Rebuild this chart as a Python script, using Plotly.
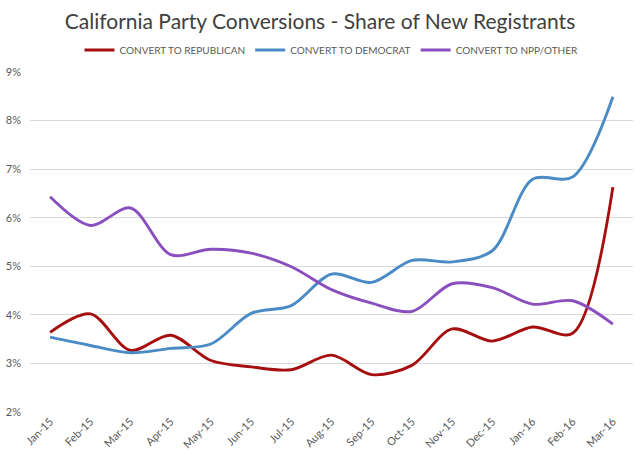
import plotly.graph_objects as go

months = ["Jan-15", "Feb-15", "Mar-15", "Apr-15", "May-15", "Jun-15", "Jul-15", "Aug-15",
          "Sep-15", "Oct-15", "Nov-15", "Dec-15", "Jan-16", "Feb-16", "Mar-16"]
republican = [3.64, 4.02, 3.27, 3.58, 3.06, 2.93, 2.87, 3.17, 2.77, 2.96, 3.71, 3.46, 3.75, 3.62, 6.63]
democrat = [3.54, 3.37, 3.22, 3.31, 3.40, 4.03, 4.19, 4.84, 4.67, 5.12, 5.09, 5.32, 6.79, 6.84, 8.49]
npp_other = [6.43, 5.84, 6.20, 5.24, 5.35, 5.27, 4.99, 4.52, 4.24, 4.07, 4.64, 4.56, 4.22, 4.29, 3.81]

y_ticks = [2, 3, 4, 5, 6, 7, 8, 9]
y_tick_labels = ["2%", "3%", "4%", "5%", "6%", "7%", "8%", "9%"]

series = [
    ("CONVERT TO REPUBLICAN", republican, "#A50F0F"),
    ("CONVERT TO DEMOCRAT", democrat, "#4A8BC5"),
    ("CONVERT TO NPP/OTHER", npp_other, "#8A4FBE"),
]

FONT = "Lato"

fig = go.Figure()
for name, vals, color in series:
    fig.add_trace(go.Scatter(
        x=months, y=vals, name=name, mode="lines",
        line=dict(color=color, width=2.9, shape="spline", smoothing=0.9),
        hoverinfo="skip",
    ))

fig.update_layout(
    width=640, height=462,
    margin=dict(l=30, r=7, t=72, b=50, autoexpand=False),
    paper_bgcolor="white", plot_bgcolor="white",
    font=dict(family=FONT, color="#595959", size=10),
    title=dict(text="California Party Conversions - Share of New Registrants",
               x=0.5, xanchor="center", y=1 - 22 / 462, yanchor="middle",
               font=dict(family=FONT, size=21, color="#404040")),
    legend=dict(orientation="h", x=0.5, xanchor="center", yref="container",
                y=1 - 50 / 462, yanchor="middle",
                font=dict(family=FONT, size=10, color="#595959"),
                itemwidth=30, bgcolor="rgba(0,0,0,0)"),
    showlegend=True,
)
fig.update_xaxes(type="category", range=[-0.5, len(months) - 0.5], showgrid=False,
                 showline=False, zeroline=False, tickangle=-45, ticks="",
                 automargin=False,
                 tickfont=dict(family=FONT, size=11, color="#595959"))
fig.update_yaxes(range=[2, 9], tickvals=y_ticks, ticktext=y_tick_labels, showgrid=True,
                 gridcolor="#D9D9D9", gridwidth=1, zeroline=False, showline=False,
                 automargin=False,
                 tickfont=dict(family=FONT, size=11, color="#595959"), ticklabelstandoff=8)

fig.write_html("out.html", config={"displayModeBar": False},
               post_script="document.body.style.margin='0';")
